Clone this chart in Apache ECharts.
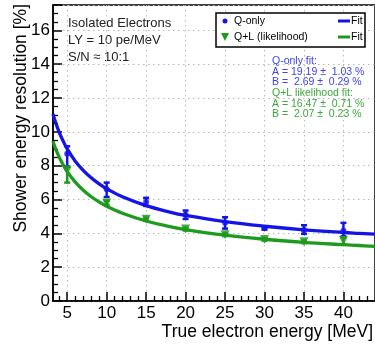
<!DOCTYPE html>
<html><head><meta charset="utf-8">
<script src="https://cdn.jsdelivr.net/npm/echarts@6/dist/echarts.min.js"></script>
<style>html,body{margin:0;padding:0;background:#fff}#c{width:375px;height:344px}</style>
</head><body><div id="c"></div>
<script>
// ---- data ----
const xTicks = [5, 10, 15, 20, 25, 30, 35, 40];
const xMinorTicks = [4, 6, 7, 8, 9, 11, 12, 13, 14, 16, 17, 18, 19, 21, 22, 23, 24, 26, 27, 28, 29, 31, 32, 33, 34, 36, 37, 38, 39, 41, 42, 43];
const energies = [5, 10, 15, 20, 25, 30, 35, 40];
// Q-only points: value, low, high
const qOnly = [8.7, 6.6, 5.85, 5.1, 4.62, 4.3, 4.2, 4.15];
const qOnlyLow = [7.95, 6.15, 5.62, 4.85, 4.28, 4.22, 3.97, 3.82];
const qOnlyHigh = [9.15, 7.0, 6.1, 5.35, 4.95, 4.38, 4.48, 4.62];
// Q+L (likelihood) points
const qlLik = [7.7, 5.8, 4.83, 4.25, 3.92, 3.64, 3.5, 3.56];
const qlLikLow = [7.0, 5.68, 4.75, 4.17, 3.84, 3.57, 3.42, 3.36];
const qlLikHigh = [7.95, 5.92, 4.92, 4.33, 4.0, 3.72, 3.58, 3.76];
// fit curves
const fitX = [3.2, 3.5, 4, 4.5, 5, 6, 7, 8, 9, 10, 12, 15, 18, 20, 25, 30, 35, 40, 42, 44];
const fitQOnly = [11.06, 10.60, 9.96, 9.44, 8.99, 8.28, 7.74, 7.30, 6.94, 6.64, 6.16, 5.64, 5.26, 5.06, 4.69, 4.42, 4.21, 4.05, 4.00, 3.95];
const fitQL = [9.44, 9.04, 8.49, 8.04, 7.65, 7.04, 6.56, 6.18, 5.87, 5.60, 5.19, 4.73, 4.40, 4.22, 3.89, 3.65, 3.47, 3.33, 3.28, 3.23];
const yMax = 17.5;
const xMin = 3.2, xMax = 44;

const BLUE = '#1414e6', GREEN = '#1e9a1e';
const FONT = 'Liberation Sans';

const chart = echarts.init(document.getElementById('c'), null, {renderer: 'canvas'});
const zip = (xs, ys) => xs.map((x, i) => [x, ys[i]]);
const errData = (v, lo, hi) => energies.map((e, i) => [e, v[i], lo[i], hi[i]]);

function errRender(color) {
  return function (params, api) {
    const x = api.value(0);
    const pLo = api.coord([x, api.value(2)]);
    const pHi = api.coord([x, api.value(3)]);
    const cap = 3;
    const st = {stroke: color, lineWidth: 2.5};
    return {type: 'group', children: [
      {type: 'line', shape: {x1: pLo[0], y1: pLo[1], x2: pHi[0], y2: pHi[1]}, style: st},
      {type: 'line', shape: {x1: pLo[0] - cap, y1: pLo[1], x2: pLo[0] + cap, y2: pLo[1]}, style: st},
      {type: 'line', shape: {x1: pHi[0] - cap, y1: pHi[1], x2: pHi[0] + cap, y2: pHi[1]}, style: st}
    ]};
  };
}

const gridLine = {show: true, lineStyle: {color: '#b8b8b8', type: [1.5, 3.5], width: 1}};

const option = {
  animation: false,
  grid: {left: 53, top: 5, width: 340, height: 296, show: true, borderColor: '#000', borderWidth: 1.5, backgroundColor: 'transparent'},
  xAxis: [{
    type: 'value', min: xMin, max: xMax,
    axisLine: {show: true, onZero: false, lineStyle: {color: '#000', width: 1.5}},
    axisTick: {show: true, inside: true, length: 9, customValues: xTicks, lineStyle: {color: '#000', width: 1.5}},
    axisLabel: {show: true, customValues: xTicks, margin: 4, color: '#000', fontSize: 17, fontFamily: FONT},
    splitLine: gridLine
  }, {
    type: 'value', min: xMin, max: xMax, position: 'bottom',
    axisLine: {show: false},
    axisTick: {show: true, inside: true, length: 5, customValues: xMinorTicks, lineStyle: {color: '#000', width: 1.3}},
    axisLabel: {show: false},
    splitLine: {show: false}
  }],
  yAxis: {
    type: 'value', min: 0, max: yMax, interval: 2,
    axisLine: {show: true, lineStyle: {color: '#000', width: 1.5}},
    axisTick: {show: true, inside: true, length: 9, lineStyle: {color: '#000', width: 1.5}},
    minorTick: {show: true, splitNumber: 4, length: 5, lineStyle: {color: '#000', width: 1.3}},
    axisLabel: {color: '#000', fontSize: 17, fontFamily: FONT, margin: 3,
      formatter: v => (v > 16 ? '' : String(v))},
    splitLine: gridLine
  },
  series: [
    {type: 'line', data: zip(fitX, fitQOnly), smooth: 0.4, showSymbol: false, lineStyle: {color: BLUE, width: 3.3}, z: 3},
    {type: 'line', data: zip(fitX, fitQL), smooth: 0.4, showSymbol: false, lineStyle: {color: GREEN, width: 3.3}, z: 3},
    {type: 'custom', renderItem: errRender(BLUE), data: errData(qOnly, qOnlyLow, qOnlyHigh), encode: {x: 0, y: 1}, z: 4},
    {type: 'custom', renderItem: errRender(GREEN), data: errData(qlLik, qlLikLow, qlLikHigh), encode: {x: 0, y: 1}, z: 4},
    {type: 'scatter', data: zip(energies, qOnly), symbol: 'circle', symbolSize: 6, itemStyle: {color: BLUE}, z: 5},
    {type: 'scatter', data: zip(energies, qlLik), symbol: 'triangle', symbolRotate: 180, symbolSize: 9, itemStyle: {color: GREEN}, z: 5}
  ],
  graphic: [
    // axis titles
    {type: 'text', x: 373, y: 332, style: {text: 'True electron energy [MeV]', fill: '#000', font: '17.5px "Liberation Sans"', textAlign: 'right', textVerticalAlign: 'middle'}},
    {type: 'text', x: 21, y: 4, rotation: Math.PI / 2, style: {text: 'Shower energy resolution [%]', fill: '#000', font: '17.5px "Liberation Sans"', textAlign: 'right', textVerticalAlign: 'middle'}},
    // top-left annotation
    {type: 'text', x: 68, y: 23, style: {text: 'Isolated Electrons', fill: '#222', font: '13px "Liberation Sans"', textVerticalAlign: 'middle'}},
    {type: 'text', x: 68, y: 40, style: {text: 'LY = 10 pe/MeV', fill: '#222', font: '13px "Liberation Sans"', textVerticalAlign: 'middle'}},
    {type: 'text', x: 68, y: 57, style: {text: 'S/N \u2248 10:1', fill: '#222', font: '13px "Liberation Sans"', textVerticalAlign: 'middle'}},
    // legend box
    {type: 'rect', shape: {x: 216, y: 13, width: 149, height: 34}, style: {fill: '#fff', stroke: '#000', lineWidth: 1.5}, z: 10},
    {type: 'circle', shape: {cx: 225, cy: 21, r: 2.5}, style: {fill: BLUE}, z: 11},
    {type: 'text', x: 234, y: 21, style: {text: 'Q-only', fill: '#000', font: '10.5px "Liberation Sans"', textVerticalAlign: 'middle'}, z: 11},
    {type: 'polygon', shape: {points: [[221, 33], [229, 33], [225, 41]]}, style: {fill: GREEN}, z: 11},
    {type: 'text', x: 234, y: 37, style: {text: 'Q+L (likelihood)', fill: '#000', font: '10.5px "Liberation Sans"', textVerticalAlign: 'middle'}, z: 11},
    {type: 'line', shape: {x1: 338, y1: 21, x2: 350, y2: 21}, style: {stroke: BLUE, lineWidth: 3}, z: 11},
    {type: 'text', x: 351, y: 21, style: {text: 'Fit', fill: '#000', font: '10.5px "Liberation Sans"', textVerticalAlign: 'middle'}, z: 11},
    {type: 'line', shape: {x1: 338, y1: 37, x2: 350, y2: 37}, style: {stroke: GREEN, lineWidth: 3}, z: 11},
    {type: 'text', x: 351, y: 37, style: {text: 'Fit', fill: '#000', font: '10.5px "Liberation Sans"', textVerticalAlign: 'middle'}, z: 11},
    // fit results
    {type: 'text', x: 272, y: 61, style: {text: 'Q-only fit:', fill: '#4040ee', font: '10.5px "Liberation Sans"', textVerticalAlign: 'middle'}},
    {type: 'text', x: 272, y: 72, style: {text: 'A = 19.19 \u00b1  1.03 %', fill: '#4040ee', font: '10.5px "Liberation Sans"', textVerticalAlign: 'middle'}},
    {type: 'text', x: 272, y: 82.5, style: {text: 'B =  2.69 \u00b1  0.29 %', fill: '#4040ee', font: '10.5px "Liberation Sans"', textVerticalAlign: 'middle'}},
    {type: 'text', x: 272, y: 93, style: {text: 'Q+L likelihood fit:', fill: '#3aa83a', font: '10.5px "Liberation Sans"', textVerticalAlign: 'middle'}},
    {type: 'text', x: 272, y: 104, style: {text: 'A = 16.47 \u00b1  0.71 %', fill: '#3aa83a', font: '10.5px "Liberation Sans"', textVerticalAlign: 'middle'}},
    {type: 'text', x: 272, y: 114.5, style: {text: 'B =  2.07 \u00b1  0.23 %', fill: '#3aa83a', font: '10.5px "Liberation Sans"', textVerticalAlign: 'middle'}}
  ]
};
chart.setOption(option);
</script>
</body></html>
